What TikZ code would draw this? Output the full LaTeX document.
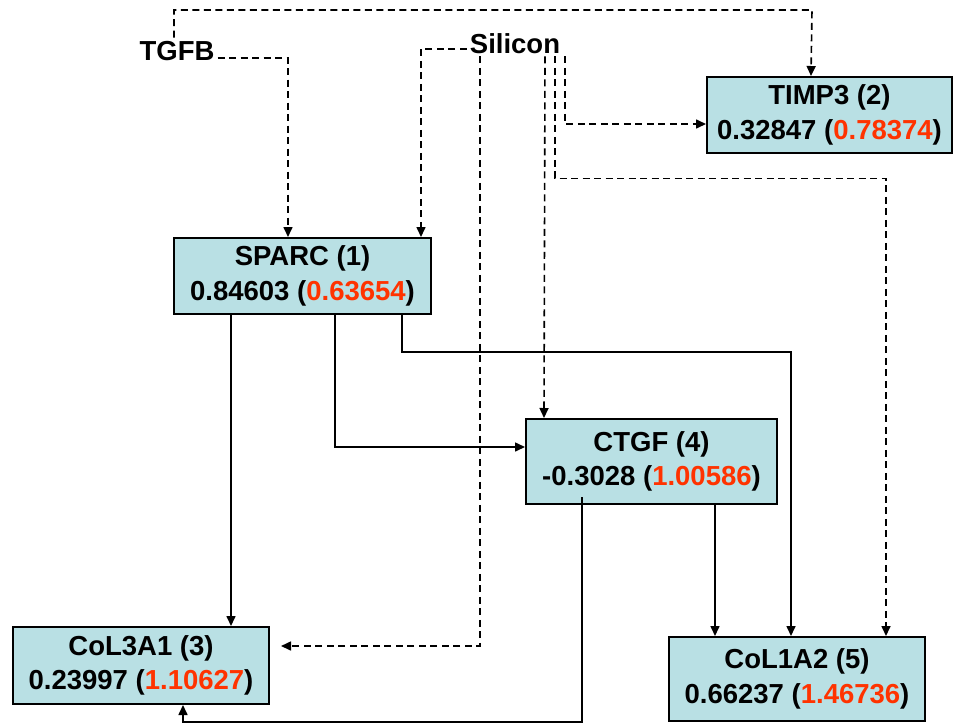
\documentclass[tikz,border=0pt]{standalone}
\usepackage{fontspec}
\setmainfont{Liberation Sans}
\usetikzlibrary{arrows.meta,calc}
\definecolor{boxfill}{RGB}{185,224,228}
\definecolor{hot}{RGB}{255,51,0}
\tikzset{
  genebox/.style={draw=black, line width=2pt, fill=boxfill, align=center,
    inner sep=0pt, font=\fontsize{27.5}{34.5}\selectfont\bfseries},
  lbl/.style={inner sep=3pt, anchor=base, font=\fontsize{27.5}{34.5}\selectfont\bfseries},
  conn/.style={line width=1.6pt, -{Triangle[length=10pt,width=9pt]}},
  dconn/.style={conn, dash pattern=on 7pt off 4.5pt},
}
\begin{document}
\begin{tikzpicture}[x=1pt,y=-1pt]
\useasboundingbox (0,0) rectangle (954,723);
% nodes
\node[genebox, minimum width=245pt, minimum height=76pt] (timp3) at (829.5,115) {TIMP3 (2)\\0.32847 (\textcolor{hot}{0.78374})};
\node[genebox, minimum width=257pt, minimum height=76pt] (sparc) at (302.5,276) {SPARC (1)\\0.84603 (\textcolor{hot}{0.63654})};
\node[genebox, minimum width=251pt, minimum height=85pt] (ctgf) at (651.5,461.5) {CTGF (4)\\-0.3028 (\textcolor{hot}{1.00586})};
\node[genebox, minimum width=256pt, minimum height=77pt] (col3) at (141,665.5) {CoL3A1 (3)\\0.23997 (\textcolor{hot}{1.10627})};
\node[genebox, minimum width=256pt, minimum height=84pt] (col1) at (797,679) {CoL1A2 (5)\\0.66237 (\textcolor{hot}{1.46736})};
\node[lbl] (tgfb) at (177,60) {TGFB};
\node[lbl] (silicon) at (515,53) {Silicon};
% dashed connectors
\draw[dconn] ([xshift=-3pt]tgfb.north) |- (812,10) -- ([xshift=105pt]timp3.north west);
\draw[dconn] ([yshift=2pt]tgfb.base east) -| ([xshift=115pt]sparc.north west);
\draw[dconn] ([yshift=4pt]silicon.base west) -| ([xshift=248pt]sparc.north west);
\draw[dconn] ([xshift=-35pt]silicon.south) |- ($(col3.north east)+(11,20)$);
\draw[dconn] ([xshift=30pt]silicon.south) -- ([xshift=19pt]ctgf.north west);
\draw[dconn] ([xshift=40pt]silicon.south) -- ++(0,122) -| ([xshift=218pt]col1.north west);
\draw[dconn] ([xshift=50pt]silicon.south) |- ([yshift=-9pt]timp3.west);
% solid connectors
\draw[conn] ([xshift=58pt]sparc.south west) -- ([xshift=219pt]col3.north west);
\draw[conn] ([xshift=162pt]sparc.south west) |- ([yshift=14.5pt]ctgf.west);
\draw[conn] ([xshift=229pt]sparc.south west) -- ++(0,37) -| ([xshift=123pt]col1.north west);
\draw[conn] ([xshift=190pt]ctgf.south west) -- ([xshift=47pt]col1.north west);
\draw[conn] ([xshift=57pt,yshift=8pt]ctgf.south west) -- ++(0,225) -| ([xshift=171pt]col3.south west);
\end{tikzpicture}
\end{document}
